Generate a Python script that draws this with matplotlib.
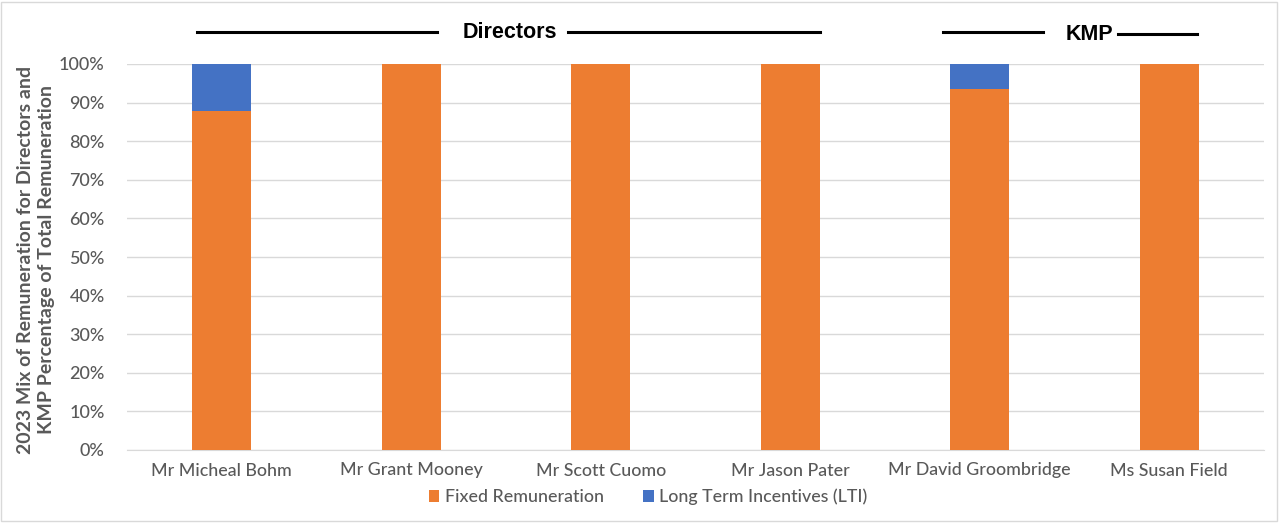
import matplotlib
matplotlib.use("Agg")
import matplotlib.pyplot as plt
from matplotlib.patches import Rectangle
from matplotlib.lines import Line2D
import numpy as np

names = ["Mr Micheal Bohm", "Mr Grant Mooney", "Mr Scott Cuomo", "Mr Jason Pater",
         "Mr David Groombridge", "Ms Susan Field"]
fixed = [87.7, 100, 100, 100, 93.5, 100]
lti = [12.3, 0, 0, 0, 6.5, 0]
yticks = [0, 10, 20, 30, 40, 50, 60, 70, 80, 90, 100]

plt.rcParams['font.family'] = ['Lato', 'DejaVu Sans']
gray = '#595959'
orange = '#ED7D31'
blue = '#4472C4'

W, H = 1279, 523
fig = plt.figure(figsize=(W/100, H/100), dpi=100)
ax = fig.add_axes([127/W, 1-450/H, (1264-127)/W, (450-64)/H])

x = np.arange(len(names))
bw = 0.31
ax.bar(x, fixed, bw, color=orange, label='Fixed Remuneration', zorder=3)
ax.bar(x, lti, bw, bottom=fixed, color=blue, label='Long Term Incentives (LTI)', zorder=3)

ax.set_xlim(-0.5, len(names)-0.5)
ax.set_ylim(0, 100)
ax.set_yticks(yticks)
ax.set_yticklabels([f"{v}%" for v in yticks], fontsize=13, color=gray, fontweight='medium')
ax.set_xticks(x)
ax.set_xticklabels(names, fontsize=12.8, color=gray, fontweight='medium')
ax.tick_params(axis='y', length=0, pad=16)
ax.tick_params(axis='x', length=0, pad=9)
ax.grid(axis='y', color='#D9D9D9', linewidth=1, zorder=0)
for s in ['top', 'right', 'left']:
    ax.spines[s].set_visible(False)
ax.spines['bottom'].set_color('#D9D9D9')

fig.text(36/W, 1-260/H, "2023 Mix of Remuneration for Directors and\nKMP Percentage of Total Remuneration",
         rotation=90, ha='center', va='center', fontsize=14, fontweight='bold', color=gray,
         linespacing=1.35)

leg = fig.legend(loc='center', bbox_to_anchor=(648/W, 1-497/H), ncol=2, frameon=False,
                 fontsize=12.8, handlelength=0.6, handleheight=0.6, handletextpad=0.3,
                 columnspacing=2.2, prop={'size': 12.8, 'weight': 'medium'})
for t in leg.get_texts():
    t.set_color(gray)

# Group header lines
def hline(x0, x1, y):
    fig.add_artist(Line2D([x0/W, x1/W], [1-y/H, 1-y/H], color='black', lw=2.2))
hline(197, 437, 32)
hline(568, 820, 32)
hline(943, 1043, 32)
hline(1118, 1197, 34)
fig.text(510/W, 1-32/H, "Directors", ha='center', va='center', fontsize=15.5,
         fontweight='bold', family=['Liberation Sans', 'DejaVu Sans'])
fig.text(1089/W, 1-35/H, "KMP", ha='center', va='center', fontsize=15.5,
         fontweight='bold', family=['Liberation Sans', 'DejaVu Sans'])

fig.add_artist(Rectangle((1/W, 2/H), 1-3/W, 1-4/H, fill=False, edgecolor='#D9D9D9', lw=1))

fig.savefig("out.png", dpi=100)
